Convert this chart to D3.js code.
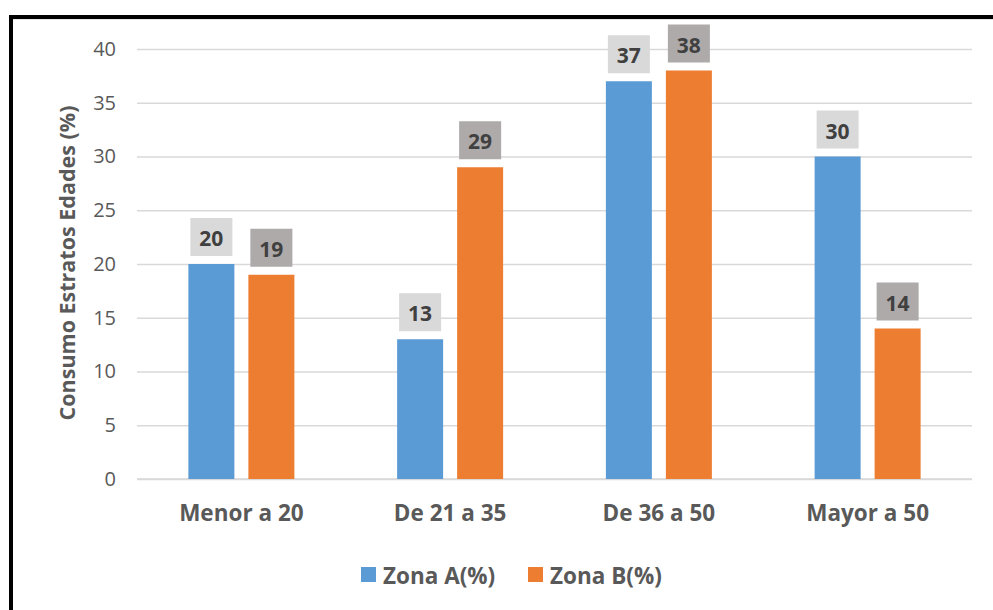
<!DOCTYPE html>
<html>
<head>
<meta charset="utf-8">
<script src="https://cdn.jsdelivr.net/npm/d3@7"></script>
<style>
  html, body { margin: 0; padding: 0; background: #fff; }
  svg { display: block; }
  text { font-family: "Open Sans", sans-serif; }
</style>
</head>
<body>
<svg id="chart" width="993" height="610"></svg>
<script>
const categories = ["Menor a 20", "De 21 a 35", "De 36 a 50", "Mayor a 50"];
const zonaA = [20, 13, 37, 30];
const zonaB = [19, 29, 38, 14];
const seriesNames = ["Zona A(%)", "Zona B(%)"];
const yTicks = [0, 5, 10, 15, 20, 25, 30, 35, 40];
const yTitle = "Consumo Estratos Edades (%)";

const colors = ["#5B9BD5", "#ED7D31"];
const labelFills = ["#D9D9D9", "#AEAAAA"];
const FONT = "'Open Sans', sans-serif";

const svg = d3.select("#chart");

// frame of the chart object
svg.append("rect").attr("x", 0).attr("y", 0).attr("width", 993).attr("height", 610).attr("fill", "#fff");
svg.append("line").attr("x1", 13).attr("x2", 993).attr("y1", 19.5).attr("y2", 19.5)
  .attr("stroke", "#e6e6e6").attr("stroke-width", 1);
svg.append("rect").attr("x", 9).attr("y", 15).attr("width", 984).attr("height", 4).attr("fill", "#000");
svg.append("rect").attr("x", 9).attr("y", 15).attr("width", 4).attr("height", 595).attr("fill", "#000");

const margin = { left: 137, right: 21, top: 49, bottom: 131 };
const W = 993, H = 610;

const x0 = d3.scaleBand().domain(categories).range([margin.left, W - margin.right]).paddingInner(0).paddingOuter(0);
const y = d3.scaleLinear().domain([0, 40]).range([H - margin.bottom, margin.top]);

// gridlines and tick labels
const yAxis = d3.axisLeft(y).tickValues(yTicks).tickSize(-(W - margin.right - margin.left)).tickPadding(21);
const gy = svg.append("g").attr("transform", `translate(${margin.left},0)`).call(yAxis);
gy.select(".domain").remove();
gy.selectAll(".tick line").attr("stroke", "#d9d9d9").attr("stroke-width", 1.3);
gy.selectAll(".tick text").attr("fill", "#595959").attr("font-size", 20)
  .attr("font-family", FONT);

// baseline
svg.append("line").attr("x1", margin.left).attr("x2", W - margin.right)
  .attr("y1", y(0)).attr("y2", y(0)).attr("stroke", "#d9d9d9").attr("stroke-width", 1.3);

// category labels
const xAxis = d3.axisBottom(x0).tickSize(0).tickPadding(26);
const gx = svg.append("g").attr("transform", `translate(0,${y(0)})`).call(xAxis);
gx.select(".domain").remove();
gx.selectAll(".tick text").attr("fill", "#595959").attr("font-size", 22.5).attr("font-weight", "bold")
  .attr("font-family", FONT);

// bars with boxed value labels
const barW = 46, gap = 14;
const data = categories.map((c, i) => ({ cat: c, vals: [zonaA[i], zonaB[i]] }));
const offsets = [-(gap / 2 + barW), gap / 2];

data.forEach(d => {
  const cx = x0(d.cat) + x0.bandwidth() / 2;
  d.vals.forEach((v, s) => {
    const bx = cx + offsets[s];
    svg.append("rect")
      .attr("x", bx).attr("y", y(v))
      .attr("width", barW).attr("height", y(0) - y(v))
      .attr("fill", colors[s]);
    const bw = 42, bh = 38;
    const lx = bx + barW / 2 - bw / 2;
    const ly = y(v) - 8 - bh;
    svg.append("rect").attr("x", lx).attr("y", ly).attr("width", bw).attr("height", bh)
      .attr("fill", labelFills[s]);
    svg.append("text").attr("x", bx + barW / 2).attr("y", ly + bh / 2 + 1)
      .attr("text-anchor", "middle").attr("dominant-baseline", "central")
      .attr("font-size", 21).attr("font-weight", "bold").attr("fill", "#404040")
      .text(v);
  });
});

// y axis title
svg.append("text")
  .attr("transform", `translate(75,${(y(0) + y(40)) / 2 - 1}) rotate(-90)`)
  .attr("text-anchor", "middle")
  .attr("font-size", 21.5).attr("font-weight", "bold").attr("fill", "#595959")
  .text(yTitle);

// legend
const legendX = [361, 528];
seriesNames.forEach((name, i) => {
  const lx = legendX[i];
  svg.append("rect").attr("x", lx).attr("y", 567).attr("width", 15).attr("height", 15).attr("fill", colors[i]);
  svg.append("text").attr("x", lx + 22).attr("y", 575).attr("dominant-baseline", "central")
    .attr("font-size", 22.5).attr("font-weight", "bold").attr("fill", "#595959").text(name);
});
</script>
</body>
</html>
